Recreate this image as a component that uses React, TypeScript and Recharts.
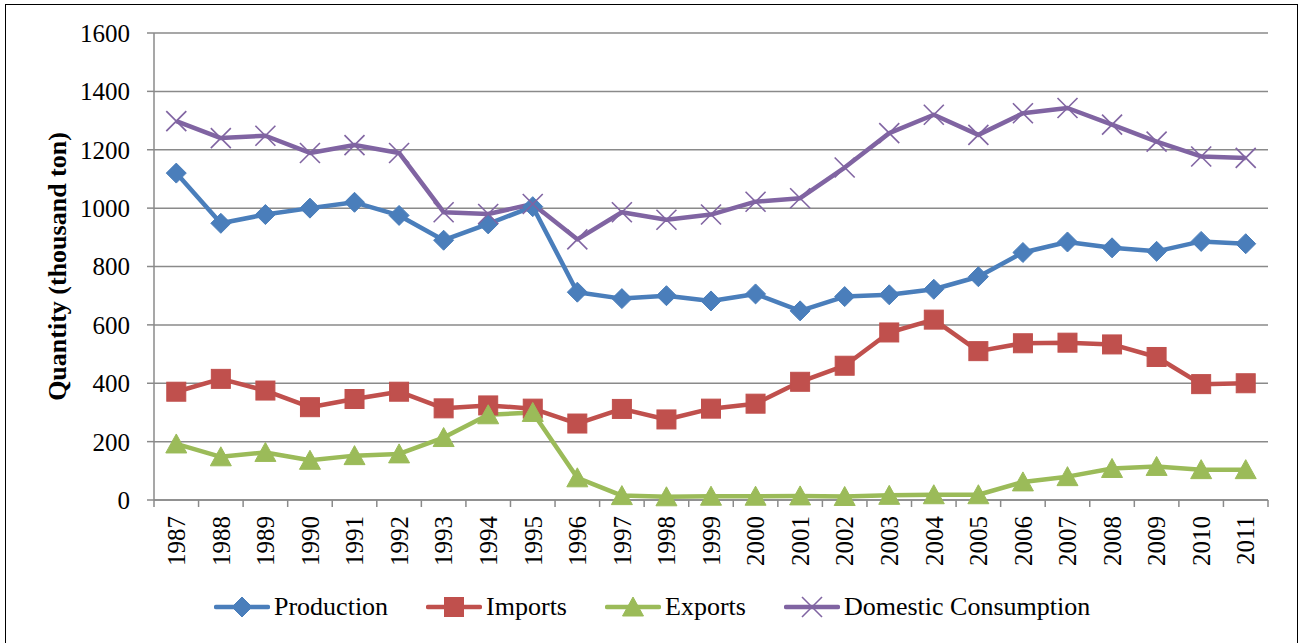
import { LineChart, Line, XAxis, YAxis, CartesianGrid } from 'recharts'

const years = [
  '1987', '1988', '1989', '1990', '1991', '1992', '1993', '1994', '1995', '1996', '1997', '1998', '1999',
  '2000', '2001', '2002', '2003', '2004', '2005', '2006', '2007', '2008', '2009', '2010', '2011',
]
const production = [1120, 948, 978, 1000, 1020, 975, 890, 946, 1005, 712, 690, 700, 682, 706, 648, 697, 703, 722, 765, 848, 884, 864, 852, 886, 878]
const imports = [371, 415, 375, 318, 346, 371, 314, 324, 313, 262, 312, 276, 313, 330, 405, 460, 574, 618, 510, 537, 539, 533, 490, 397, 400]
const exportsQ = [192, 148, 163, 136, 152, 158, 214, 292, 300, 76, 15, 11, 13, 13, 14, 12, 16, 18, 18, 62, 80, 108, 115, 104, 104]
const consumption = [1298, 1240, 1248, 1189, 1216, 1189, 986, 980, 1014, 893, 986, 960, 978, 1022, 1034, 1139, 1257, 1320, 1251, 1325, 1343, 1286, 1228, 1177, 1172]
const yTicks = [0, 200, 400, 600, 800, 1000, 1200, 1400, 1600]

const rows = years.map((year, i) => ({
  year,
  production: production[i],
  imports: imports[i],
  exports: exportsQ[i],
  consumption: consumption[i],
}))

const W = 1299
const H = 643
const MARGIN = { top: 33, right: 31, left: 0, bottom: 0 }
const Y_AXIS_W = 154
const X_AXIS_H = 143
const HALF_BAND = (W - MARGIN.left - MARGIN.right - Y_AXIS_W) / years.length / 2

const FONT = "'Liberation Serif', 'Times New Roman', Tinos, 'DejaVu Serif', serif"
const GRID = '#8a8a8a'
const BLUE = '#4a7ebb'
const RED = '#c0504d'
const GREEN = '#9bbb59'
const PURPLE = '#8064a2'

type MarkProps = { cx: number; cy: number }

const Diamond = ({ cx, cy }: MarkProps) => (
  <polygon points={`${cx},${cy - 10} ${cx + 10},${cy} ${cx},${cy + 10} ${cx - 10},${cy}`} fill={BLUE} stroke={BLUE} strokeWidth={1} />
)
const Square = ({ cx, cy }: MarkProps) => (
  <rect x={cx - 9.5} y={cy - 9.5} width={19} height={19} fill={RED} stroke={RED} strokeWidth={1} />
)
const Triangle = ({ cx, cy }: MarkProps) => (
  <polygon points={`${cx},${cy - 10} ${cx + 10.5},${cy + 9} ${cx - 10.5},${cy + 9}`} fill={GREEN} stroke={GREEN} strokeWidth={1} />
)
const Cross = ({ cx, cy }: MarkProps) => (
  <g stroke={PURPLE} strokeWidth={1.6}>
    <line x1={cx - 10} y1={cy - 10} x2={cx + 10} y2={cy + 10} />
    <line x1={cx - 10} y1={cy + 10} x2={cx + 10} y2={cy - 10} />
  </g>
)

const series = [
  { key: 'production', name: 'Production', color: BLUE, Mark: Diamond },
  { key: 'imports', name: 'Imports', color: RED, Mark: Square },
  { key: 'exports', name: 'Exports', color: GREEN, Mark: Triangle },
  { key: 'consumption', name: 'Domestic Consumption', color: PURPLE, Mark: Cross },
]

// Excel puts the category tick marks between the labels
const YearTick = (p: any) => {
  const { x, y, payload, index } = p
  const ty = y + 16
  return (
    <g>
      <line x1={x - HALF_BAND} x2={x - HALF_BAND} y1={y} y2={y + 7} stroke={GRID} strokeWidth={1.5} />
      {index === years.length - 1 && (
        <line x1={x + HALF_BAND} x2={x + HALF_BAND} y1={y} y2={y + 7} stroke={GRID} strokeWidth={1.5} />
      )}
      <text
        x={x}
        y={ty}
        dy="0.35em"
        textAnchor="end"
        transform={`rotate(-90 ${x} ${ty})`}
        style={{ fontSize: 25, fontFamily: FONT }}
        fill="#000"
      >
        {payload.value}
      </text>
    </g>
  )
}

function ChartLegend() {
  return (
    <div
      style={{
        position: 'absolute', left: 214, top: 592, height: 30,
        display: 'flex', alignItems: 'center', gap: 38,
        fontFamily: FONT, fontSize: 26, lineHeight: '30px', color: '#000', whiteSpace: 'nowrap',
      }}
    >
      {series.map(s => (
        <div key={s.key} style={{ display: 'flex', alignItems: 'center' }}>
          <svg width={56} height={30} style={{ marginRight: 4 }}>
            <line x1={2} y1={15} x2={54} y2={15} stroke={s.color} strokeWidth={4.5} strokeLinecap="round" />
            <s.Mark cx={28} cy={15} />
          </svg>
          <span>{s.name}</span>
        </div>
      ))}
    </div>
  )
}

export default function App() {
  return (
    <div style={{ position: 'absolute', left: 0, top: 0, width: W, height: H, overflow: 'hidden', background: '#fff', fontFamily: FONT }}>
      <div style={{ position: 'absolute', left: 5, top: 4, width: 1291, height: 700, border: '1.5px solid #000' }} />
      <LineChart width={W} height={H} data={rows} margin={MARGIN} style={{ position: 'absolute', left: 0, top: 0, fontFamily: FONT }}>
        <CartesianGrid vertical={false} stroke={GRID} strokeWidth={1.5} />
        <XAxis
          dataKey="year"
          height={X_AXIS_H}
          interval={0}
          padding={{ left: HALF_BAND, right: HALF_BAND }}
          tickSize={0}
          tickMargin={0}
          tickLine={false}
          axisLine={{ stroke: GRID, strokeWidth: 1.5 }}
          tick={YearTick}
        />
        <YAxis
          width={Y_AXIS_W}
          domain={[0, 1600]}
          ticks={yTicks}
          interval={0}
          tickSize={7}
          tickMargin={17}
          tickLine={{ stroke: GRID, strokeWidth: 1.5 }}
          axisLine={{ stroke: GRID, strokeWidth: 1.5 }}
          tick={{ fontSize: 25, fill: '#000', style: { fontFamily: FONT } }}
          label={{
            value: 'Quantity (thousand ton)',
            angle: -90,
            position: 'insideLeft',
            offset: 57,
            style: { textAnchor: 'middle', fontSize: 26, fontWeight: 'bold', fontFamily: FONT, fill: '#000' },
          }}
        />
        {series.map(s => (
          <Line
            key={s.key}
            type="linear"
            dataKey={s.key}
            name={s.name}
            stroke={s.color}
            strokeWidth={4.5}
            strokeLinejoin="round"
            isAnimationActive={false}
            dot={(p: any) => <s.Mark key={`${s.key}-${p.index}`} cx={p.cx} cy={p.cy} />}
            activeDot={false}
          />
        ))}
      </LineChart>
      <ChartLegend />
    </div>
  )
}
